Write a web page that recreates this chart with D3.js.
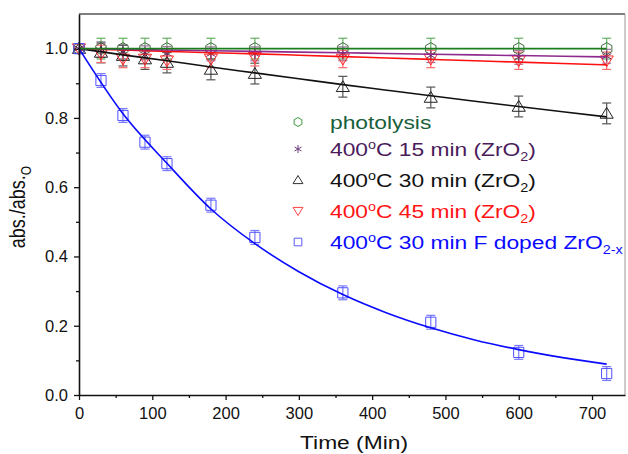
<!DOCTYPE html>
<html lang="en">
<head>
    <meta charset="UTF-8">
    <title>abs./abs.O vs time</title>
    <script src="https://d3js.org/d3.v7.min.js"></script>
    <style>
        body { margin: 0; background-color: white; }
        svg { display: block; font-family: "Liberation Sans", Arial, sans-serif; }
        .tick text { font-size: 16.5px; fill: #111; }
        .legend text { font-size: 19px; }
    </style>
</head>
<body>
<script>
    const width = 628, height = 454;
    const margin = {left: 79, top: 14, right: 3, bottom: 59};

    // sampling times (min)
    const times = [0, 30, 60, 90, 120, 180, 240, 360, 480, 600, 720];

    // measured points
    const photolysis = [1.0, 1.0, 1.0, 1.0, 1.0, 1.0, 1.0, 1.0, 1.0, 1.0, 1.0];
    const zr15 = [1.0, 0.995, 0.99, 0.988, 0.986, 0.985, 0.985, 0.985, 0.98, 0.975, 0.978];
    const zr30 = [1.0, 0.989, 0.98, 0.97, 0.96, 0.94, 0.928, 0.89, 0.859, 0.833, 0.813];
    const zr45 = [1.0, 0.985, 0.97, 0.97, 0.965, 0.97, 0.975, 0.97, 0.97, 0.965, 0.965];
    const fDoped = [1.0, 0.908, 0.807, 0.73, 0.668, 0.548, 0.455, 0.295, 0.21, 0.123, 0.062];

    // error bar half-widths
    const errPhotolysis = 0.03, err15 = 0.02, err30 = 0.03, err45 = 0.025, errF = 0.02;

    // fitted curves
    const fitTimes = [0, 60, 120, 180, 240, 300, 360, 420, 480, 540, 600, 660, 720];
    const fitPhotolysis = [1.0, 1.0, 1.0, 1.0, 1.0, 1.0, 1.0, 1.0, 1.0, 1.0, 1.0, 1.0, 1.0];
    const fit15 = [1.0, 0.998, 0.996, 0.994, 0.992, 0.99, 0.988, 0.986, 0.984, 0.982, 0.98, 0.978, 0.976];
    const fit30 = [1.0, 0.982, 0.965, 0.947, 0.93, 0.913, 0.896, 0.88, 0.864, 0.848, 0.833, 0.818, 0.803];
    const fit45 = [1.0, 0.996, 0.992, 0.988, 0.985, 0.981, 0.977, 0.973, 0.969, 0.965, 0.961, 0.957, 0.953];
    const fitF = [1.0, 0.812, 0.669, 0.537, 0.437, 0.356, 0.29, 0.237, 0.194, 0.159, 0.131, 0.108, 0.089];

    const xTicks = [0, 100, 200, 300, 400, 500, 600, 700];
    const yTicks = [0.0, 0.2, 0.4, 0.6, 0.8, 1.0];

    const series = [
        {name: "photolysis", vals: photolysis, err: errPhotolysis, fit: fitPhotolysis, sym: "hex",
         line: "#1b7d1b", mark: "#3d6b3d", bar: "#63b063", text: "#17603a", legendMark: "#3f9a3f"},
        {name: "15", vals: zr15, err: err15, fit: fit15, sym: "star",
         line: "#8e2a8e", mark: "#6a2a6a", bar: "#a070a0", text: "#4b1b5b", legendMark: "#6a3a7a"},
        {name: "30", vals: zr30, err: err30, fit: fit30, sym: "tri",
         line: "#111", mark: "#222", bar: "#555", text: "#111", legendMark: "#333"},
        {name: "45", vals: zr45, err: err45, fit: fit45, sym: "tridown",
         line: "#ff1010", mark: "#ff2a2a", bar: "#ff6a6a", text: "#ff1414", legendMark: "#ff4040"},
        {name: "F", vals: fDoped, err: errF, fit: fitF, sym: "square",
         line: "#0a0aff", mark: "#5050ff", bar: "#7a7aff", text: "#0a0aff", legendMark: "#5a5aff"}
    ];

    const svg = d3.select("body").append("svg")
        .attr("width", width)
        .attr("height", height);

    const x = d3.scaleLinear().domain([0, 745]).range([margin.left, width - margin.right]);
    const y = d3.scaleLinear().domain([0, 1.1]).range([height - margin.bottom, margin.top]);

    // frame (top and right)
    svg.append("line").attr("x1", x(0)).attr("x2", x(745)).attr("y1", y(1.1)).attr("y2", y(1.1))
        .attr("stroke", "#555").attr("stroke-width", 1.5);
    svg.append("line").attr("x1", x(745)).attr("x2", x(745)).attr("y1", y(1.1)).attr("y2", y(0))
        .attr("stroke", "#999").attr("stroke-width", 1);

    function symbolPath(sym, s) {
        if (sym === "hex") {
            const pts = d3.range(6).map(i => {
                const a = Math.PI / 6 + i * Math.PI / 3;
                return [s * Math.cos(a), s * Math.sin(a)];
            });
            return "M" + pts.join("L") + "Z";
        }
        if (sym === "star") return d3.symbol(d3.symbolAsterisk, s * s * 2.2)();
        if (sym === "tri") return `M0,${-s}L${s * 1.1},${s * 0.8}L${-s * 1.1},${s * 0.8}Z`;
        if (sym === "tridown") return `M0,${s}L${s * 1.1},${-s * 0.8}L${-s * 1.1},${-s * 0.8}Z`;
        return `M${-s * 0.85},${-s * 0.85}H${s * 0.85}V${s * 0.85}H${-s * 0.85}Z`;
    }

    const plot = svg.append("g");

    // error bars
    series.forEach(sr => {
        const g = plot.append("g").attr("stroke", sr.bar).attr("stroke-width", 1.2).attr("fill", "none");
        times.forEach((t, i) => {
            const v = sr.vals[i];
            if (i === 0) return;
            g.append("line").attr("x1", x(t)).attr("x2", x(t))
                .attr("y1", y(v - sr.err)).attr("y2", y(v + sr.err));
            [v - sr.err, v + sr.err].forEach(e => {
                g.append("line").attr("x1", x(t) - 4.5).attr("x2", x(t) + 4.5)
                    .attr("y1", y(e)).attr("y2", y(e));
            });
        });
    });

    // markers
    series.forEach(sr => {
        plot.append("g").selectAll("path")
            .data(times.map((t, i) => [t, sr.vals[i]]))
            .join("path")
            .attr("transform", d => `translate(${x(d[0])},${y(d[1])})`)
            .attr("d", symbolPath(sr.sym, 6))
            .attr("fill", "none")
            .attr("stroke", sr.mark)
            .attr("stroke-width", 1);
    });

    // fit lines
    const line = d3.line().x(d => x(d[0])).y(d => y(d[1])).curve(d3.curveMonotoneX);
    series.slice().reverse().forEach(sr => {
        plot.append("path")
            .datum(fitTimes.map((t, i) => [t, sr.fit[i]]))
            .attr("d", line)
            .attr("fill", "none")
            .attr("stroke", sr.line)
            .attr("stroke-width", 1.6);
    });

    // axes
    svg.append("g").attr("transform", `translate(0,${y(0)})`)
        .call(d3.axisBottom(x).tickValues(xTicks).tickFormat(d3.format("d")).tickSize(5).tickSizeOuter(0).tickPadding(7));
    svg.append("g").attr("transform", `translate(0,${y(0)})`)
        .call(d3.axisBottom(x).tickValues(d3.range(50, 750, 100)).tickFormat("").tickSize(3).tickSizeOuter(0))
        .select(".domain").remove();
    svg.append("g").attr("transform", `translate(${x(0)},0)`)
        .call(d3.axisLeft(y).tickValues(yTicks).tickFormat(d3.format(".1f")).tickSize(5).tickSizeOuter(0).tickPadding(6));
    svg.append("g").attr("transform", `translate(${x(0)},0)`)
        .call(d3.axisLeft(y).tickValues([0.1, 0.3, 0.5, 0.7, 0.9]).tickFormat("").tickSize(3).tickSizeOuter(0))
        .select(".domain").remove();
    svg.selectAll(".domain").attr("stroke", "#111").attr("stroke-width", 1.6);
    svg.selectAll(".tick line").attr("stroke", "#111").attr("stroke-width", 1.3);

    // axis titles (text in the source is slightly stretched horizontally)
    svg.append("text")
        .attr("transform", "translate(354,449) scale(1.2,1)")
        .attr("text-anchor", "middle")
        .attr("font-size", 19)
        .attr("fill", "#111")
        .text("Time (Min)");

    const yTitle = svg.append("text")
        .attr("transform", "translate(25,207) rotate(-90) scale(1,1.2)")
        .attr("text-anchor", "middle")
        .attr("font-size", 18)
        .attr("fill", "#111");
    yTitle.append("tspan").text("abs./abs.");
    yTitle.append("tspan").attr("font-size", 12).attr("dy", 5).text("O");

    // legend
    const legendRows = [
        {parts: [["photolysis"]]},
        {parts: [["400"], ["o", "sup"], ["C 15 min (ZrO"], ["2", "sub"], [")"]]},
        {parts: [["400"], ["o", "sup"], ["C 30 min (ZrO"], ["2", "sub"], [")"]]},
        {parts: [["400"], ["o", "sup"], ["C 45 min (ZrO"], ["2", "sub"], [")"]]},
        {parts: [["400"], ["o", "sup"], ["C 30 min F doped ZrO"], ["2-x", "sub"]]}
    ];
    const legendY = [122, 149, 180, 211, 242];
    const legend = svg.append("g").attr("class", "legend");
    series.forEach((sr, i) => {
        legend.append("path")
            .attr("transform", `translate(298,${legendY[i]})`)
            .attr("d", symbolPath(sr.sym, 4.5))
            .attr("fill", "none")
            .attr("stroke", sr.legendMark)
            .attr("stroke-width", 1);
        const t = legend.append("text")
            .attr("transform", `translate(330,${legendY[i] + 7}) scale(1.2,1)`)
            .attr("fill", sr.text);
        let shift = 0;
        legendRows[i].parts.forEach(p => {
            const ts = t.append("tspan").text(p[0]);
            if (p[1] === "sup") { ts.attr("font-size", 12).attr("dy", -7); shift = -7; }
            else if (p[1] === "sub") { ts.attr("font-size", 12).attr("dy", 5 - shift); shift = 5; }
            else if (shift !== 0) { ts.attr("dy", -shift); shift = 0; }
        });
    });
</script>
</body>
</html>
